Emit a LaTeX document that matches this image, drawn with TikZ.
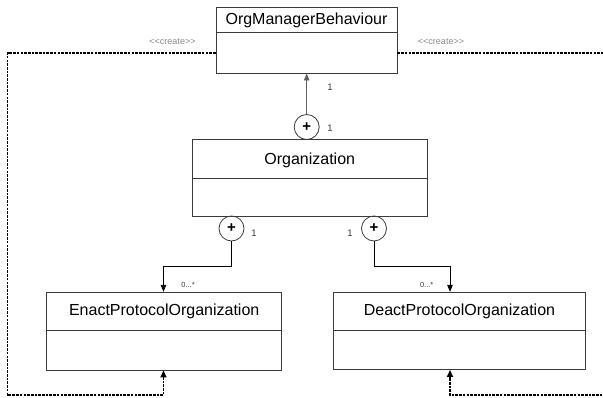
\documentclass[tikz,border=0pt]{standalone}
\usepackage{fontspec}
\setmainfont{Liberation Sans}
\usetikzlibrary{arrows.meta,calc}

\definecolor{edge}{HTML}{3A3A3A}
\definecolor{lbl}{HTML}{8A8A8A}

\tikzset{
  classbox/.style={draw=edge, line width=0.9pt, rectangle, inner sep=0pt},
  classname/.style={inner sep=0pt, font=\fontsize{16}{19}\selectfont},
  partline/.style={draw=edge, line width=0.9pt},
  composite/.style={draw=edge, line width=0.8pt, circle, minimum size=25pt, inner sep=0pt,
    font=\bfseries\fontsize{15}{15}\selectfont},
  assoc/.style={line width=0.8pt, -{Triangle[length=7pt,width=5.5pt]}},
  createline/.style={line width=1.7pt, dash pattern=on 2.6pt off 1.1pt},
  createdep/.style={createline, -{Triangle[length=7pt,width=6pt]}},
  mult/.style={inner sep=0pt, text=edge, font=\fontsize{9.5}{10}\selectfont},
  smallmult/.style={inner sep=0pt, text=edge, font=\fontsize{7.5}{8}\selectfont},
  stereo/.style={inner sep=0pt, text=lbl, font=\fontsize{9}{10}\selectfont}
}

\begin{document}
\begin{tikzpicture}[x=1pt,y=-1pt]
  \useasboundingbox (0,0) rectangle (603,398);
  \clip (0,0) rectangle (603,398);

  % class boxes
  \node[classbox, minimum width=181pt, minimum height=66pt] (omb) at (306.5,40) {};
  \node[classname] (ombname) at (306.5,20) {OrgManagerBehaviour};
  \draw[partline] (216,32.7) -- (397,32.7);

  \node[classbox, minimum width=234.7pt, minimum height=76.5pt] (org) at (309.7,177.75) {};
  \node[classname] (orgname) at (309.7,160) {Organization};
  \draw[partline] (192.3,178.7) -- (427,178.7);

  \node[classbox, minimum width=235pt, minimum height=77.7pt] (enact) at (164.2,331.15) {};
  \node[classname] (enactname) at (164.2,311.5) {EnactProtocolOrganization};
  \draw[partline] (46.7,330.7) -- (281.7,330.7);

  \node[classbox, minimum width=252.4pt, minimum height=77.2pt] (deact) at (459.5,330.9) {};
  \node[classname] (deactname) at (459.5,311.5) {DeactProtocolOrganization};
  \draw[partline] (333.3,330.7) -- (585.7,330.7);

  % composition markers
  \node[composite] (topc) at (306.7,127) {+};
  \node[composite] (lc) at (231.5,228.5) {+};
  \node[composite] (rc) at (374,228.5) {+};

  % associations
  \draw[assoc, draw=edge!80] (topc.north) -- (topc.north |- omb.south);

  \coordinate (ljoin) at (163.5,266);
  \coordinate (rjoin) at (450,266);
  \draw[assoc] (lc.south) |- (ljoin) -- (ljoin |- enact.north);
  \draw[assoc] (rc.south) |- (rjoin) -- (rjoin |- deact.north);

  % create dependencies; the right-hand one leaves the page edge
  \coordinate (dtl) at (7.5,53);
  \coordinate (dbl) at (7.5,395);
  \coordinate (dtr) at (606,53);
  \coordinate (dbr) at (606,395);
  \draw[createdep] (dtl -| omb.west) -- (dtl) -- (dbl) -| (ljoin |- enact.south);
  \draw[createline] (dtr -| omb.east) -- (dtr);
  \draw[createdep] (dbr) -| (rjoin |- deact.south);

  % labels
  \node[stereo] (cl) at (172.5,41.5) {<\kern0pt<create>\kern0pt>};
  \node[stereo] (cr) at (441,42) {<\kern0pt<create>\kern0pt>};

  \node[mult] (m1) at (330,87) {1};
  \node[mult] (m2) at (330,128) {1};
  \node[mult] (m3) at (254,233) {1};
  \node[mult] (m4) at (350,233) {1};
  \node[smallmult] (m5) at (188,285) {0...*};
  \node[smallmult] (m6) at (426.7,285) {0...*};
\end{tikzpicture}
\end{document}
